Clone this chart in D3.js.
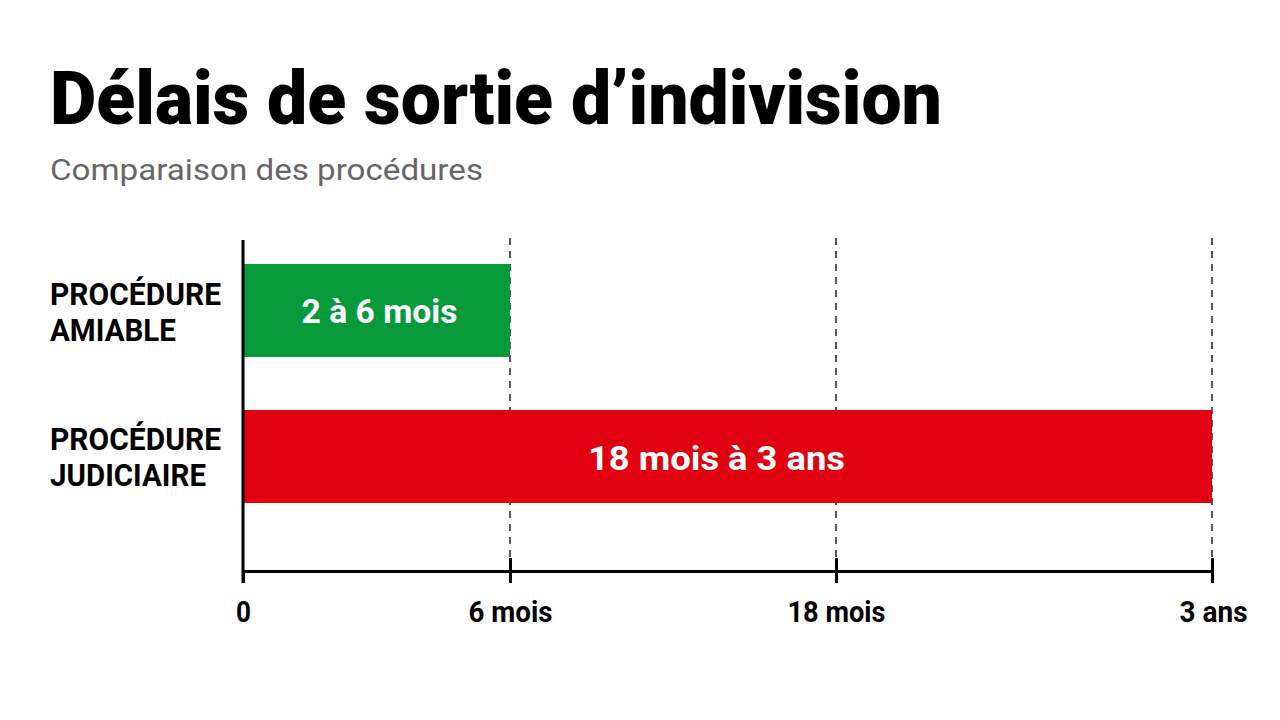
<!DOCTYPE html>
<html><head><meta charset="utf-8">
<script src="https://cdn.jsdelivr.net/npm/d3@7/dist/d3.min.js"></script>
<style>body{margin:0;background:#fff;}svg{display:block;}text{font-family:Roboto,"Noto Sans",sans-serif;}</style>
</head><body>
<svg id="c" width="1280" height="720"></svg>
<script>
const title = "Délais de sortie d’indivision";
const subtitle = "Comparaison des procédures";
const categories = ["PROCÉDURE AMIABLE", "PROCÉDURE JUDICIAIRE"];
const categoryLines = [["PROCÉDURE", "AMIABLE"], ["PROCÉDURE", "JUDICIAIRE"]];
const barStart = [0, 0];
const barEnd = [6, 36];
const barLabels = ["2 à 6 mois", "18 mois à 3 ans"];
const barColors = ["#079a3a", "#e0000f"];
const tickValues = [0, 6, 18, 36];
const tickLabels = ["0", "6 mois", "18 mois", "3 ans"];

const svg = d3.select("#c");

// Piecewise scale matching the reference's uneven spacing
const x = d3.scaleLinear().domain(tickValues).range([243, 510, 836, 1212]);
const y = d3.scaleBand().domain(categories).range([264, 503]).paddingInner(0.363).paddingOuter(0);
const axisY = 571;

function fit(sel, w) { sel.attr("textLength", w).attr("lengthAdjust", "spacingAndGlyphs"); return sel; }

fit(svg.append("text").attr("x", 50).attr("y", 124).attr("font-size", 75).attr("font-weight", 900)
  .attr("fill", "#000").text(title), 892);
fit(svg.append("text").attr("x", 50).attr("y", 180).attr("font-size", 29).attr("font-weight", 400)
  .attr("fill", "#666").text(subtitle), 433);

// Gridlines
svg.append("g").selectAll("line").data(tickValues.slice(1)).join("line")
  .attr("x1", d => x(d)).attr("x2", d => x(d)).attr("y1", 238).attr("y2", 558)
  .attr("stroke", "#222").attr("stroke-width", 1.5).attr("stroke-dasharray", "7,6");

// Bars
svg.append("g").selectAll("rect").data(categories).join("rect")
  .attr("x", (d, i) => x(barStart[i])).attr("width", (d, i) => x(barEnd[i]) - x(barStart[i]))
  .attr("y", d => y(d)).attr("height", y.bandwidth())
  .attr("fill", (d, i) => barColors[i]);

const labelW = [156, 257];
const labelDx = [3, -11];
svg.append("g").selectAll("text").data(categories).join("text")
  .attr("x", (d, i) => (x(barStart[i]) + x(barEnd[i])) / 2 + labelDx[i])
  .attr("y", (d, i) => y(d) + y.bandwidth() / 2 + (i === 0 ? 12 : 14))
  .attr("text-anchor", "middle").attr("font-size", 34).attr("font-weight", 700).attr("fill", "#fff")
  .text((d, i) => barLabels[i])
  .attr("textLength", (d, i) => labelW[i]).attr("lengthAdjust", "spacingAndGlyphs");

// Category labels
const catW = [[171, 126], [171, 156]];
categories.forEach((c, i) => {
  const cy = y(c) + y.bandwidth() / 2;
  categoryLines[i].forEach((ln, j) => {
    fit(svg.append("text").attr("x", 50).attr("y", cy - 6 + j * 36).attr("font-size", 31)
      .attr("font-weight", 700).attr("fill", "#000").text(ln), catW[i][j]);
  });
});

// Axes
svg.append("line").attr("x1", 243).attr("x2", 243).attr("y1", 240).attr("y2", 583)
  .attr("stroke", "#000").attr("stroke-width", 3);

const xAxis = d3.axisBottom(x).tickValues(tickValues).tickFormat((d, i) => tickLabels[i])
  .tickSize(12).tickSizeOuter(0).tickPadding(18);
const gx = svg.append("g").attr("transform", `translate(0,${axisY})`).call(xAxis);
gx.select(".domain").attr("stroke", "#000").attr("stroke-width", 3);
gx.selectAll(".tick line").attr("stroke", "#000").attr("stroke-width", 3).attr("y1", d => d === 0 ? 0 : -13);
const tickW = [15, 84, 98, 68];
gx.selectAll(".tick text").attr("font-size", 30).attr("font-weight", 700).attr("fill", "#000")
  .attr("font-family", "Roboto, sans-serif").attr("dy", "0.71em")
  .attr("x", (d, i) => i === 3 ? 1 : 0)
  .attr("textLength", (d, i) => tickW[i]).attr("lengthAdjust", "spacingAndGlyphs");
</script>
</body></html>
